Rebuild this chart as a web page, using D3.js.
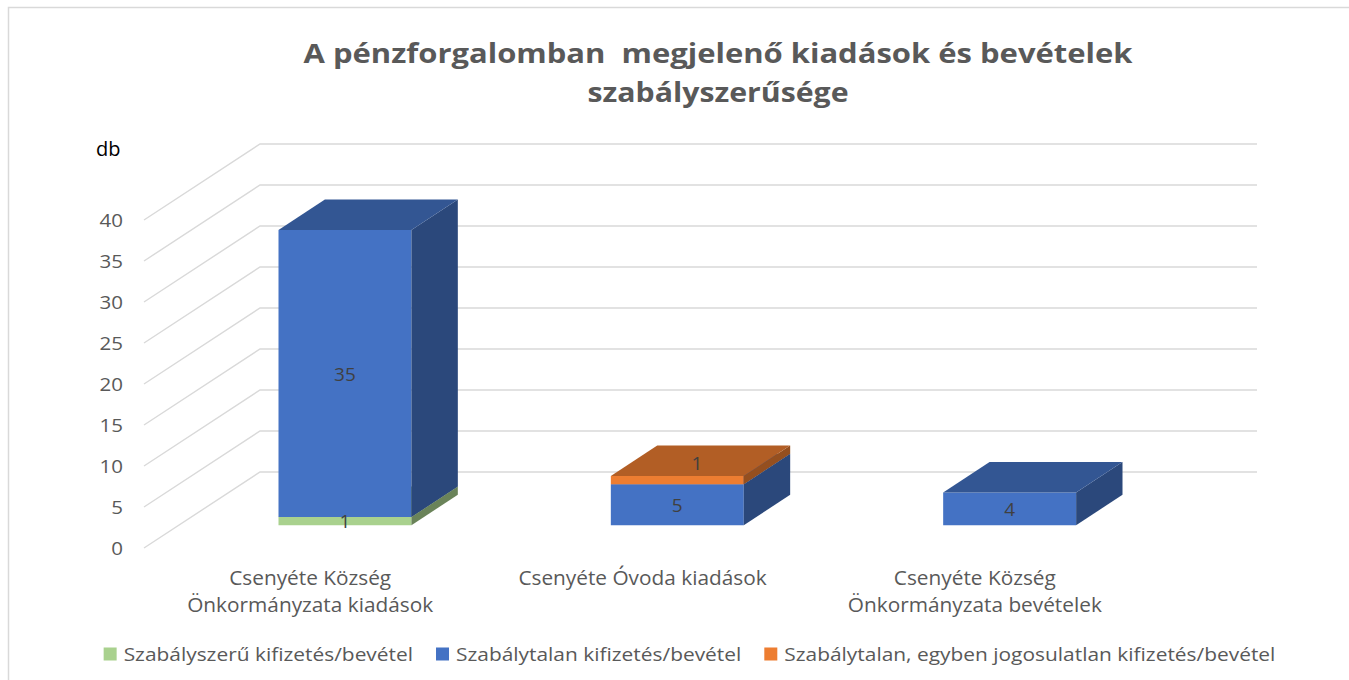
<!DOCTYPE html>
<html>
<head>
<meta charset="utf-8">
<script src="https://cdn.jsdelivr.net/npm/d3@7"></script>
<style>
  body { margin: 0; background: #fff; }
  svg { display: block; font-family: "Open Sans", "Noto Sans", sans-serif; }
</style>
</head>
<body>
<div id="chart"></div>
<script>
// data
const categories = [
    ["Csenyéte Község", "Önkormányzata kiadások"],
    ["Csenyéte Óvoda kiadások"],
    ["Csenyéte Község", "Önkormányzata bevételek"]
];
const seriesNames = [
    "Szabályszerű kifizetés/bevétel",
    "Szabálytalan kifizetés/bevétel",
    "Szabálytalan, egyben jogosulatlan kifizetés/bevétel"
];
const szabalyszeru = [1, 0, 0];
const szabalytalan = [35, 5, 4];
const jogosulatlan = [0, 1, 0];
const yTicks = [0, 5, 10, 15, 20, 25, 30, 35, 40];
const seriesColors = ["#A9D18E", "#4472C4", "#ED7D31"];

const width = 1349, height = 680;
const svg = d3.select("#chart").append("svg")
    .attr("width", width)
    .attr("height", height);

// stretch text horizontally (reference text is a bit wide)
function stretch(sel, k) {
    sel.each(function () {
        const len = this.getComputedTextLength();
        d3.select(this).attr("textLength", len * k).attr("lengthAdjust", "spacingAndGlyphs");
    });
}

// chart border
svg.append("rect")
    .attr("x", 8.5).attr("y", 7.5)
    .attr("width", width).attr("height", height)
    .attr("fill", "none").attr("stroke", "#d9d9d9").attr("stroke-width", 1.5);

// title
const titleLines = ["A pénzforgalomban  megjelenő kiadások és bevételek", "szabályszerűsége"];
const titleWidths = [829, 261];
svg.append("g")
    .attr("fill", "#595959")
    .attr("text-anchor", "middle")
    .style("font-size", "26px")
    .style("font-weight", "bold")
    .selectAll("text")
    .data(titleLines)
    .join("text")
    .attr("xml:space", "preserve")
    .attr("x", 718)
    .attr("y", (d, i) => 63 + i * 39)
    .text(d => d)
    .attr("textLength", (d, i) => titleWidths[i])
    .attr("lengthAdjust", "spacingAndGlyphs");

// 3D projection: front plane scales + depth offset
const DX = 116, DY = -76;
const P = (px, py, d) => [px + d * DX, py + d * DY];

const keys = seriesNames;
const rows = categories.map((c, i) => ({
    cat: i,
    [keys[0]]: szabalyszeru[i],
    [keys[1]]: szabalytalan[i],
    [keys[2]]: jogosulatlan[i]
}));

const x = d3.scaleBand()
    .domain(d3.range(categories.length))
    .range([144, 1141])
    .paddingInner(0.6)
    .paddingOuter(0.3);

const y = d3.scaleLinear()
    .domain([0, 40])
    .range([548, 220]);

const color = d3.scaleOrdinal().domain(keys).range(seriesColors);

// gridlines: side wall diagonals + back wall horizontals
const grid = svg.append("g").attr("stroke", "#d9d9d9").attr("stroke-width", 1.4).attr("fill", "none");
grid.selectAll("path")
    .data(yTicks)
    .join("path")
    .attr("d", v => {
        const a = P(x.range()[0], y(v), 0);
        const b = P(x.range()[0], y(v), 1);
        const c = P(x.range()[1], y(v), 1);
        return d3.line()([a, b, c]);
    });

// y axis labels
svg.append("g")
    .attr("transform", `translate(${x.range()[0] - 21},0)`)
    .call(d3.axisLeft(y).tickValues(yTicks).tickSize(0).tickPadding(0))
    .call(g => g.select(".domain").remove())
    .call(g => g.selectAll("text")
        .attr("fill", "#595959")
        .style("font-size", "19px")
        .style("font-family", "'Open Sans', sans-serif"))
    .call(g => stretch(g.selectAll("text"), 1.08));

svg.append("text")
    .attr("x", 96).attr("y", 148)
    .attr("dominant-baseline", "central")
    .attr("fill", "#000")
    .style("font-size", "20px")
    .text("db");

// bars
const stack = d3.stack().keys(keys)(rows);
const front = 0.3, back = 0.7;
const poly = pts => d3.line()(pts) + "Z";

const bars = svg.append("g");
stack.forEach(layer => {
    const base = d3.color(color(layer.key));
    layer.forEach((d, i) => {
        if (d[1] - d[0] <= 0) return;
        const x0 = x(i), x1 = x(i) + x.bandwidth();
        const yb = y(d[0]), yt = y(d[1]);
        bars.append("path")
            .attr("d", poly([P(x0, yb, front), P(x1, yb, front), P(x1, yt, front), P(x0, yt, front)]))
            .attr("fill", base.formatHex());
        bars.append("path")
            .attr("d", poly([P(x1, yb, front), P(x1, yt, front), P(x1, yt, back), P(x1, yb, back)]))
            .attr("fill", base.darker(1.3).formatHex());
        bars.append("path")
            .attr("d", poly([P(x0, yt, front), P(x1, yt, front), P(x1, yt, back), P(x0, yt, back)]))
            .attr("fill", base.darker(0.8).formatHex());
    });
});

// data labels
const labels = svg.append("g")
    .attr("fill", "#404040")
    .attr("text-anchor", "middle")
    .style("font-size", "19px");
stack.forEach((layer, li) => {
    layer.forEach((d, i) => {
        const v = d[1] - d[0];
        if (v <= 0) return;
        const cx = x(i) + x.bandwidth() / 2;
        const cy = y((d[0] + d[1]) / 2);
        // small segment on top of a stack sits on the top face
        const onTop = li === stack.length - 1 && y(d[0]) - y(d[1]) < 20;
        const [px, py] = onTop ? P(cx, y(d[1]), 0.47) : P(cx, cy, front);
        labels.append("text")
            .attr("x", px).attr("y", py)
            .attr("dominant-baseline", "central")
            .text(v);
    });
});

// category labels
const catG = svg.append("g")
    .attr("fill", "#595959")
    .attr("text-anchor", "middle")
    .style("font-size", "20px");
categories.forEach((lines, i) => {
    const cx = x(i) + x.bandwidth() / 2;
    lines.forEach((t, j) => {
        catG.append("text")
            .attr("x", cx).attr("y", 577 + j * 27)
            .attr("dominant-baseline", "central")
            .text(t);
    });
});
stretch(catG.selectAll("text"), 1.04);

// legend
const legend = svg.append("g");
const items = legend.selectAll("g").data(keys).join("g");
items.append("rect")
    .attr("width", 13).attr("height", 13)
    .attr("y", -6.5)
    .attr("fill", d => color(d));
items.append("text")
    .attr("x", 20)
    .attr("dominant-baseline", "central")
    .attr("fill", "#595959")
    .style("font-size", "19px")
    .text(d => d);
stretch(items.selectAll("text"), 1.1);
let lx = 0;
items.each(function () {
    d3.select(this).attr("transform", `translate(${lx},0)`);
    lx += 20 + +d3.select(this).select("text").attr("textLength") + 23;
});
legend.attr("transform", `translate(${(97 + 1282) / 2 - (lx - 23) / 2},654)`);
</script>
</body>
</html>
